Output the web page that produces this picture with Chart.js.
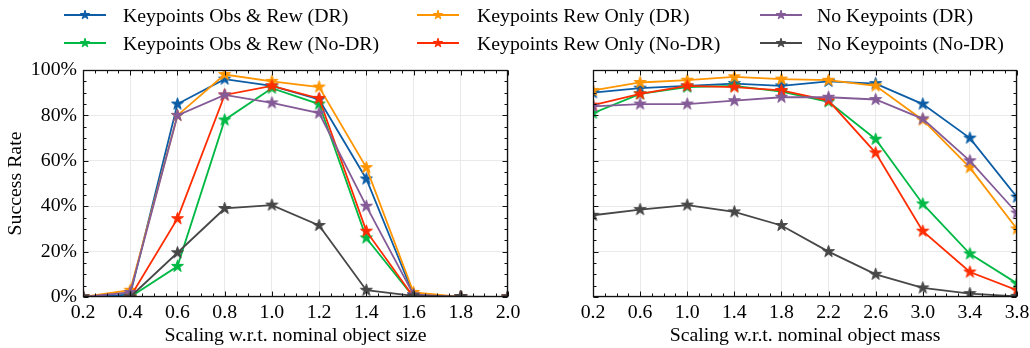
<!DOCTYPE html>
<html><head><meta charset="utf-8">
<script src="https://cdn.jsdelivr.net/npm/chart.js@4.4.0/dist/chart.umd.min.js"></script>
<style>
html,body{margin:0;padding:0;background:#fff;width:1030px;height:348px;overflow:hidden;}
canvas{display:block;}
.box{position:absolute;top:0;}
.lg{position:absolute;font-family:'Liberation Serif','Times New Roman',serif;font-size:19.8px;color:#000;white-space:nowrap;height:28px;line-height:28px;}
.ls{position:absolute;}
</style></head><body>
<div class="box" style="left:0;width:520px;height:348px"><canvas id="c1" width="520" height="348"></canvas></div>
<div class="box" style="left:520px;width:510px;height:348px"><canvas id="c2" width="510" height="348"></canvas></div>
<div id="legend"></div>
<script>
// ---------- data ----------
const seriesNames = ['Keypoints Obs & Rew (DR)','Keypoints Obs & Rew (No-DR)','Keypoints Rew Only (DR)','Keypoints Rew Only (No-DR)','No Keypoints (DR)','No Keypoints (No-DR)'];
const seriesColors = ['#0C5DA5','#00B945','#FF9500','#FF2C00','#845B97','#474747'];

const sizeScales = [0.2,0.4,0.6,0.8,1.0,1.2,1.4,1.6,1.8,2.0];
const sizeObsRewDR   = [0,1,85,96,93,87,52,1,0,0];
const sizeObsRewNoDR = [0,0,13.5,78,92,85,26,0,0,0];
const sizeRewDR      = [0,3,80,98,95,92.5,57,2,0,0];
const sizeRewNoDR    = [0,0,34.5,89,93,87.5,29,0,0,0];
const sizeNoKpDR     = [0,2,80,89,85.5,81,40,1,0,0];
const sizeNoKpNoDR   = [0,0,19.5,39,40.5,31.5,3,0.5,0.2,0];

const massScales = [0.2,0.6,1.0,1.4,1.8,2.2,2.6,3.0,3.4,3.8];
const massObsRewDR   = [90,92,93,94,93,95,94,85,70,44];
const massObsRewNoDR = [81,89.5,92.5,93,90.5,86,69.5,41,19,6];
const massRewDR      = [91,94.5,95.5,97,96,95.5,93,78,57,30];
const massRewNoDR    = [84.5,89.5,93,92.5,91,86.5,63.5,29,11,3];
const massNoKpDR     = [84,85,85,86.5,88,88,87,78.5,60,37];
const massNoKpNoDR   = [36,38.5,40.5,37.5,31.5,20,10,4,1.5,0.3];

const sizeTicks = [0.2,0.4,0.6,0.8,1.0,1.2,1.4,1.6,1.8,2.0];
const massTicks = [0.2,0.6,1.0,1.4,1.8,2.2,2.6,3.0,3.4,3.8];
const rateTicks = [0,20,40,60,80,100];

const xTitleSize = 'Scaling w.r.t. nominal object size';
const xTitleMass = 'Scaling w.r.t. nominal object mass';
const yTitle = 'Success Rate';

// ---------- helpers ----------
function starCanvas(color, R){
  const pad = 2, s = Math.ceil(2*R + 2*pad);
  const c = document.createElement('canvas'); c.width = s; c.height = s;
  const g = c.getContext('2d');
  const cx = s/2, cy = s/2, r = R*0.382;
  g.beginPath();
  for(let i=0;i<10;i++){
    const ang = -Math.PI/2 + i*Math.PI/5;
    const rad = i%2===0 ? R : r;
    const px = cx + rad*Math.cos(ang), py = cy + rad*Math.sin(ang);
    i===0 ? g.moveTo(px,py) : g.lineTo(px,py);
  }
  g.closePath();
  g.fillStyle = color; g.fill();
  g.lineWidth = 1; g.strokeStyle = color; g.lineJoin='miter'; g.stroke();
  return c;
}

const FONT = "'Liberation Serif','Times New Roman',serif";
const FS = 19.8;

function makeDatasets(xs, arrs){
  return arrs.map((ys,i)=>({
    label: seriesNames[i],
    data: xs.map((x,j)=>({x:x, y:ys[j]})),
    borderColor: seriesColors[i],
    backgroundColor: seriesColors[i],
    borderWidth: 1.8,
    pointStyle: starCanvas(seriesColors[i], 6.3),
    pointRadius: 6,
    tension: 0,
    clip: 0,
    order: 10 - i
  }));
}

function subdivide(major, n){
  const out = [];
  for(let i=0;i<major.length-1;i++){
    const a = major[i], b = major[i+1];
    for(let k=1;k<n;k++) out.push(a + (b-a)*k/n);
  }
  return out;
}

const framePlugin = {
  id: 'frame',
  afterDraw(chart, args, opts){
    const {ctx, chartArea:a} = chart;
    const x = chart.scales.x, y = chart.scales.y;
    ctx.save();
    ctx.strokeStyle = '#111';
    ctx.lineWidth = 1;
    const L = Math.round(a.left)+0.5, R = Math.round(a.right)-0.5, T = Math.round(a.top)+0.5, B = Math.round(a.bottom)-0.5;
    const tick = (x1,y1,x2,y2)=>{ctx.beginPath();ctx.moveTo(x1,y1);ctx.lineTo(x2,y2);ctx.stroke();};
    const xm = opts.xMajor, ym = opts.yMajor;
    const xn = subdivide(xm,4), yn = subdivide(ym,4);
    xm.forEach(v=>{const p=Math.round(x.getPixelForValue(v))+0.5; tick(p,B,p,B-5); tick(p,T,p,T+5);});
    xn.forEach(v=>{const p=Math.round(x.getPixelForValue(v))+0.5; tick(p,B,p,B-3); tick(p,T,p,T+3);});
    ym.forEach(v=>{const p=Math.round(y.getPixelForValue(v))+0.5; tick(L,p,L+5,p); tick(R,p,R-5,p);});
    yn.forEach(v=>{const p=Math.round(y.getPixelForValue(v))+0.5; tick(L,p,L+3,p); tick(R,p,R-3,p);});
    ctx.lineWidth = 1.3;
    ctx.strokeRect(L,T,R-L,B-T);
    ctx.restore();
  }
};

function makeChart(canvasId, xs, arrs, xTicks, xTitle, showY, yWidth, padRight){
  return new Chart(document.getElementById(canvasId), {
    type: 'line',
    data: { datasets: makeDatasets(xs, arrs) },
    options: {
      responsive: false,
      animation: false,
      events: [],
      layout: { padding: { left: 0, right: padRight, top: 70, bottom: 0 } },
      plugins: {
        legend: { display: false },
        tooltip: { enabled: false },
        frame: { xMajor: xTicks, yMajor: rateTicks }
      },
      scales: {
        x: {
          type: 'linear',
          min: xTicks[0], max: xTicks[xTicks.length-1],
          afterBuildTicks: s => { s.ticks = xTicks.map(v=>({value:v})); },
          afterFit: s => { s.height = 51; s.paddingLeft = 0; s.paddingRight = 0; },
          ticks: { callback: v => Number(v).toFixed(1), font:{family:FONT,size:FS}, color:'#000', padding: 4, maxRotation:0, autoSkip:false },
          grid: { color: '#e9e9e9', lineWidth: 1, drawTicks: false },
          border: { display: false },
          title: { display: true, text: xTitle, font:{family:FONT,size:FS}, color:'#000', padding:{top:0,bottom:0} }
        },
        y: {
          type: 'linear',
          min: 0, max: 100,
          afterBuildTicks: s => { s.ticks = rateTicks.map(v=>({value:v})); },
          afterFit: s => { s.width = yWidth; s.paddingTop = 0; s.paddingBottom = 0; },
          ticks: { display: showY, callback: v => v + '%', font:{family:FONT,size:FS}, color:'#000', padding: 6 },
          grid: { color: '#e9e9e9', lineWidth: 1, drawTicks: false },
          border: { display: false },
          title: { display: showY, text: yTitle, font:{family:FONT,size:FS}, color:'#000', padding:{top:4,bottom:0} }
        }
      }
    },
    plugins: [framePlugin]
  });
}

makeChart('c1', sizeScales, [sizeObsRewDR,sizeObsRewNoDR,sizeRewDR,sizeRewNoDR,sizeNoKpDR,sizeNoKpNoDR], sizeTicks, xTitleSize, true, 83, 12);
makeChart('c2', massScales, [massObsRewDR,massObsRewNoDR,massRewDR,massRewNoDR,massNoKpDR,massNoKpNoDR], massTicks, xTitleMass, false, 73, 13);

// ---------- legend (matplotlib column-first order, 3 columns) ----------
const legendCols = [{line:64, text:123},{line:417, text:477},{line:760, text:817}];
const legendRows = [15, 43];
const lg = document.getElementById('legend');
seriesNames.forEach((name,i)=>{
  const col = legendCols[Math.floor(i/2)], rowY = legendRows[i%2];
  const c = document.createElement('canvas');
  c.width = 44; c.height = 14; c.className='ls';
  c.style.left = col.line+'px'; c.style.top = (rowY-7)+'px';
  const g = c.getContext('2d');
  g.strokeStyle = seriesColors[i]; g.lineWidth = 1.8;
  g.beginPath(); g.moveTo(0,7); g.lineTo(42,7); g.stroke();
  const st = starCanvas(seriesColors[i], 4.8);
  g.drawImage(st, 21 - st.width/2, 7 - st.height/2);
  lg.appendChild(c);
  const t = document.createElement('div');
  t.className = 'lg'; t.textContent = name;
  t.style.left = col.text+'px'; t.style.top = (rowY-14)+'px';
  lg.appendChild(t);
});
</script>
</body></html>
